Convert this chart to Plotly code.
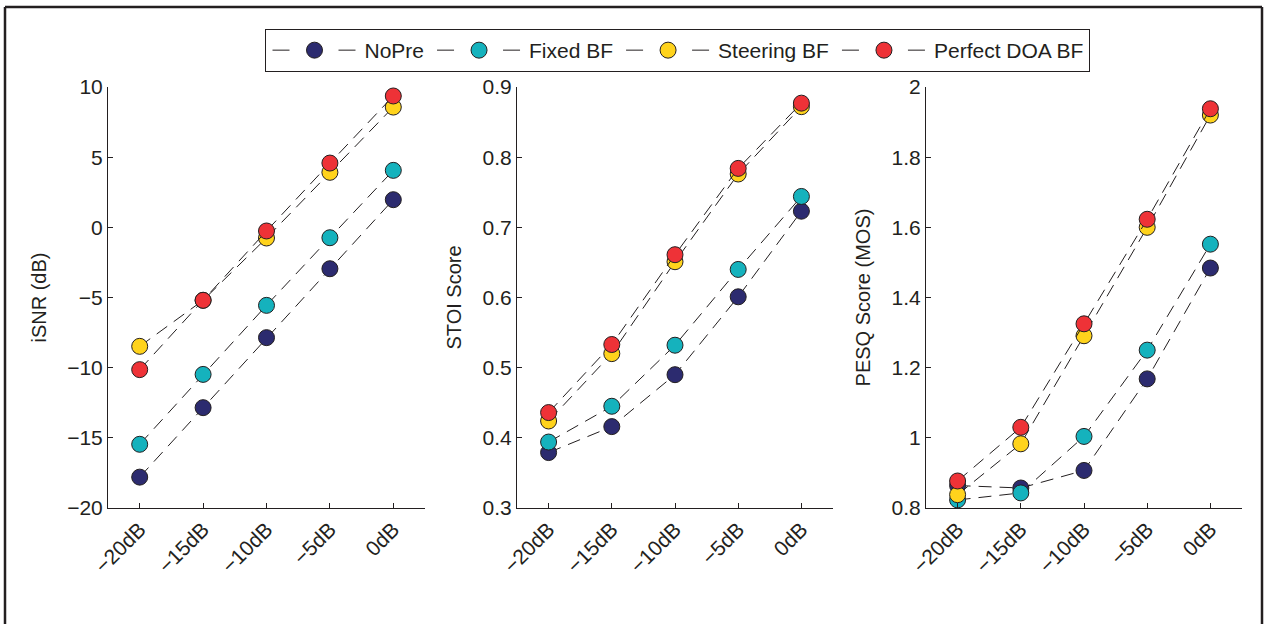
import plotly.graph_objects as go

# ---------------- data ----------------
snr_levels = ["−20dB", "−15dB", "−10dB", "−5dB", "0dB"]
series_names = ["NoPre", "Fixed BF", "Steering BF", "Perfect DOA BF"]

isnr_nopre = [-17.8, -12.85, -7.86, -2.95, 1.97]
isnr_fixed = [-15.46, -10.48, -5.56, -0.74, 4.06]
isnr_steer = [-8.48, -5.2, -0.76, 3.92, 8.57]
isnr_perfect = [-10.14, -5.2, -0.26, 4.58, 9.36]

stoi_nopre = [0.379, 0.416, 0.490, 0.601, 0.723]
stoi_fixed = [0.394, 0.445, 0.532, 0.640, 0.744]
stoi_steer = [0.424, 0.520, 0.651, 0.776, 0.872]
stoi_perfect = [0.436, 0.533, 0.661, 0.784, 0.877]

pesq_nopre = [0.864, 0.857, 0.907, 1.168, 1.484]
pesq_fixed = [0.823, 0.843, 1.004, 1.250, 1.552]
pesq_steer = [0.838, 0.983, 1.291, 1.600, 1.920]
pesq_perfect = [0.877, 1.030, 1.325, 1.623, 1.938]

panels = [
    ("iSNR (dB)", [isnr_nopre, isnr_fixed, isnr_steer, isnr_perfect], [-20, 10], 5),
    ("STOI Score", [stoi_nopre, stoi_fixed, stoi_steer, stoi_perfect], [0.3, 0.9], 0.1),
    ("PESQ Score (MOS)", [pesq_nopre, pesq_fixed, pesq_steer, pesq_perfect], [0.8, 2.0], 0.2),
]

# ---------------- style ----------------
colors = ["#2C2B6F", "#15B2BD", "#FFD31C", "#EE3237"]
ink = "#231F20"
FONT = "Liberation Sans, Arial, Helvetica, sans-serif"

W, H = 1265, 624
ML, MR, MT, MB = 108, 23, 87, 116
PW = W - ML - MR
PH = H - MT - MB
px_domains = [(108, 425), (517, 833), (926, 1242)]
domains = [((a - ML) / PW, (b - ML) / PW) for a, b in px_domains]

fig = go.Figure()

for p, (title, series, yr, dt) in enumerate(panels):
    xa = "x" if p == 0 else f"x{p+1}"
    ya = "y" if p == 0 else f"y{p+1}"
    for s, vals in enumerate(series):
        fig.add_trace(go.Scatter(
            x=snr_levels, y=vals, xaxis=xa, yaxis=ya,
            mode="lines+markers", name=series_names[s],
            showlegend=False, legendgroup=series_names[s],
            line=dict(color=ink, width=1, dash="13px,8px"),
            marker=dict(size=16, color=colors[s], line=dict(color=ink, width=1)),
        ))

# legend-only entries (same series, key glyph styled like the reference: "— ● —")
for s, name in enumerate(series_names):
    fig.add_trace(go.Scatter(
        x=[None], y=[None], mode="lines+markers", name=name,
        legendgroup=name, showlegend=True,
        line=dict(color=ink, width=1, dash="0px,3px,17px,49px,17px,300px"),
        marker=dict(size=16, color=colors[s], line=dict(color=ink, width=1)),
    ))

layout = dict(
    width=W, height=H,
    margin=dict(l=ML, r=MR, t=MT, b=MB, pad=0),
    paper_bgcolor="white", plot_bgcolor="white",
    font=dict(family=FONT, size=20, color=ink),
    showlegend=True,
    legend=dict(
        orientation="h", x=(677 - ML) / PW, xanchor="center",
        y=(H - MB - 29) / PH, yanchor="top",
        bordercolor=ink, borderwidth=1, bgcolor="white",
        font=dict(family=FONT, size=21, color=ink),
        itemwidth=90,
    ),
)

for p, (title, series, yr, dt) in enumerate(panels):
    xk = "xaxis" if p == 0 else f"xaxis{p+1}"
    yk = "yaxis" if p == 0 else f"yaxis{p+1}"
    layout[xk] = dict(
        domain=list(domains[p]), anchor="y" if p == 0 else f"y{p+1}",
        type="category", range=[-0.5, 4.5],
        showline=True, linecolor=ink, linewidth=1,
        ticks="inside", ticklen=5, tickcolor=ink, tickangle=-45,
        showgrid=False, zeroline=False, automargin=False,
        tickfont=dict(size=21),
    )
    layout[yk] = dict(
        domain=[0, 1], anchor="x" if p == 0 else f"x{p+1}",
        range=yr, dtick=dt, tick0=yr[0],
        showline=True, linecolor=ink, linewidth=1,
        ticks="inside", ticklen=5, tickcolor=ink,
        showgrid=False, zeroline=False, automargin=False,
        tickfont=dict(size=21),
        title=dict(text=title, font=dict(size=20), standoff=15),
    )

fig.update_layout(**layout)

# outer figure frame (left, top, right edges)
def pxx(v):
    return (v - ML) / PW

def pxy(v):
    return (H - MB - v) / PH

frame = dict(color=ink, width=2.5)
fig.add_shape(type="line", xref="paper", yref="paper", x0=pxx(5), x1=pxx(5), y0=pxy(7), y1=pxy(H + 20), line=frame)
fig.add_shape(type="line", xref="paper", yref="paper", x0=pxx(5), x1=pxx(1262), y0=pxy(7), y1=pxy(7), line=frame)
fig.add_shape(type="line", xref="paper", yref="paper", x0=pxx(1262), x1=pxx(1262), y0=pxy(7), y1=pxy(H + 20), line=frame)

fig.write_html(
    "out.html",
    config={"displayModeBar": False},
    post_script="document.body.style.margin='0px';document.body.style.overflow='hidden';",
)
